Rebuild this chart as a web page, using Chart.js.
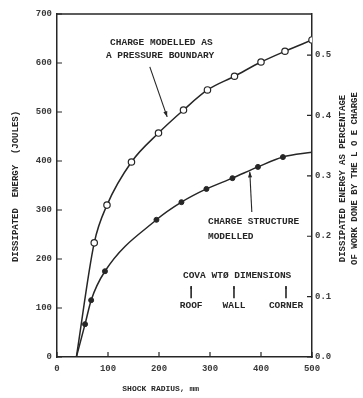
<!DOCTYPE html>
<html>
<head>
<meta charset="utf-8">
<script src="https://cdn.jsdelivr.net/npm/chart.js@4.4.1/dist/chart.umd.min.js"></script>
<style>
  html, body { margin: 0; padding: 0; background: #fff; }
  #wrap { width: 363px; height: 398px; }
</style>
</head>
<body>
<div id="wrap"><canvas id="chart" width="363" height="398"></canvas></div>
<script>
// values
const radiusPressure = [38, 73, 98, 146, 199, 248, 295, 348, 400, 447, 500];
const energyPressure = [0, 233, 310, 398, 457, 504, 545, 573, 602, 624, 647];

const radiusStructure = [38, 55, 67, 94, 195, 244, 293, 344, 394, 443, 500];
const energyStructure = [0, 67, 116, 175, 280, 316, 343, 365, 388, 408, 418];

const radiusTicks = [0, 100, 200, 300, 400, 500];
const energyTicks = [0, 100, 200, 300, 400, 500, 600, 700];
const fractionTicks = [0, 0.1, 0.2, 0.3, 0.4, 0.5];

const INK = '#262626';
const MONO = '"Liberation Mono", "DejaVu Sans Mono", monospace';

function toPoints(xs, ys) {
    return xs.map((x, i) => ({ x: x, y: ys[i] }));
}

// no marker where the curve meets the axis / frame
const pressureRadius = radiusPressure.map((r, i) => i === 0 ? 0 : 3.2);
const structureRadius = radiusStructure.map((r, i) => (i === 0 || i === radiusStructure.length - 1) ? 0 : 2.5);

function arrow(ctx, x1, y1, x2, y2, head) {
    ctx.beginPath();
    ctx.moveTo(x1, y1);
    ctx.lineTo(x2, y2);
    ctx.stroke();
    let a = Math.atan2(y2 - y1, x2 - x1);
    ctx.beginPath();
    ctx.moveTo(x2, y2);
    ctx.lineTo(x2 - head * Math.cos(a - 0.35), y2 - head * Math.sin(a - 0.35));
    ctx.lineTo(x2 - head * Math.cos(a + 0.35), y2 - head * Math.sin(a + 0.35));
    ctx.closePath();
    ctx.fill();
}

const paperText = {
    id: 'paperText',
    afterDraw(chart) {
        const ctx = chart.ctx;
        const area = chart.chartArea;
        const sx = chart.scales.x, sy = chart.scales.y, sy2 = chart.scales.y2;
        const X = v => sx.getPixelForValue(v);
        const Y = v => sy.getPixelForValue(v);

        ctx.save();
        ctx.strokeStyle = INK;
        ctx.fillStyle = INK;

        // top of the frame
        ctx.lineWidth = 1.5;
        ctx.beginPath();
        ctx.moveTo(area.left, area.top);
        ctx.lineTo(area.right, area.top);
        ctx.stroke();

        // inward tick marks
        ctx.lineWidth = 1.2;
        ctx.beginPath();
        sx.ticks.forEach(t => {
            let p = X(t.value);
            ctx.moveTo(p, area.bottom);
            ctx.lineTo(p, area.bottom - 5);
        });
        sy.ticks.forEach(t => {
            let p = Y(t.value);
            ctx.moveTo(area.left, p);
            ctx.lineTo(area.left + 5, p);
        });
        sy2.ticks.forEach(t => {
            let p = sy2.getPixelForValue(t.value);
            ctx.moveTo(area.right, p);
            ctx.lineTo(area.right - 5, p);
        });
        ctx.stroke();

        // axis titles
        ctx.font = 'bold 9px ' + MONO;
        ctx.textBaseline = 'middle';
        ctx.textAlign = 'center';
        ctx.save();
        ctx.translate(16, (area.top + area.bottom) / 2 + 1);
        ctx.rotate(-Math.PI / 2);
        ctx.fillText('DISSIPATED  ENERGY  (JOULES)', 0, 0);
        ctx.restore();

        ctx.save();
        ctx.translate(343, (area.top + area.bottom) / 2 - 7);
        ctx.rotate(-Math.PI / 2);
        ctx.fillText('DISSIPATED ENERGY AS PERCENTAGE', 0, 0);
        ctx.fillText('OF WORK DONE BY THE L O E CHARGE', 0, 12);
        ctx.restore();

        ctx.textAlign = 'left';
        ctx.font = 'bold 8px ' + MONO;
        ctx.fillText('SHOCK RADIUS, mm', X(128), 389);

        // curve labels
        ctx.font = 'bold 9.5px ' + MONO;
        ctx.fillText('CHARGE MODELLED AS', X(104), Y(641));
        ctx.fillText('A PRESSURE BOUNDARY', X(96), Y(616));
        ctx.lineWidth = 1.1;
        arrow(ctx, X(182), Y(592), X(216), Y(490), 6);

        ctx.fillText('CHARGE STRUCTURE', X(296), Y(276));
        ctx.fillText('MODELLED', X(296), Y(245));
        arrow(ctx, X(382), Y(296), X(378), Y(378), 6);

        ctx.fillText('COVA WT\u00d8 DIMENSIONS', X(247), Y(167));
        ctx.textAlign = 'center';
        [[263, 'ROOF'], [347, 'WALL'], [449, 'CORNER']].forEach(d => {
            ctx.lineWidth = 1.6;
            arrow(ctx, X(d[0]), Y(120), X(d[0]), Y(145), 3);
            ctx.fillText(d[1], X(d[0]), Y(104));
        });

        ctx.restore();
    }
};

const tickFont = { family: MONO, size: 9, weight: 'bold' };

new Chart(document.getElementById('chart').getContext('2d'), {
    type: 'line',
    data: {
        datasets: [
            {
                label: 'Charge modelled as a pressure boundary',
                data: toPoints(radiusPressure, energyPressure),
                borderColor: INK,
                borderWidth: 1.5,
                fill: false,
                cubicInterpolationMode: 'monotone',
                pointRadius: pressureRadius,
                pointBackgroundColor: '#fff',
                pointBorderColor: INK,
                pointBorderWidth: 1.2
            },
            {
                label: 'Charge structure modelled',
                data: toPoints(radiusStructure, energyStructure),
                borderColor: INK,
                borderWidth: 1.5,
                fill: false,
                cubicInterpolationMode: 'monotone',
                pointRadius: structureRadius,
                pointBackgroundColor: INK,
                pointBorderColor: INK,
                pointBorderWidth: 1
            }
        ]
    },
    options: {
        responsive: false,
        animation: false,
        devicePixelRatio: 1,
        layout: { padding: { top: 14, left: 0, right: 0, bottom: 0 } },
        plugins: {
            legend: { display: false },
            tooltip: { enabled: false }
        },
        scales: {
            x: {
                type: 'linear',
                min: 0,
                max: 500,
                afterBuildTicks: s => { s.ticks = radiusTicks.map(v => ({ value: v })); },
                afterFit: s => { s.height = 41; },
                grid: { drawOnChartArea: false, drawTicks: false },
                border: { color: INK, width: 1.5 },
                ticks: { padding: 6, color: '#3a3a3a', font: tickFont, maxRotation: 0, autoSkip: false }
            },
            y: {
                type: 'linear',
                position: 'left',
                min: 0,
                max: 700,
                afterBuildTicks: s => { s.ticks = energyTicks.map(v => ({ value: v })); },
                afterFit: s => { s.width = 57; },
                grid: { drawOnChartArea: false, drawTicks: false },
                border: { color: INK, width: 1.5 },
                ticks: { padding: 5, color: '#3a3a3a', font: tickFont }
            },
            y2: {
                type: 'linear',
                position: 'right',
                min: 0,
                max: 0.568,
                afterBuildTicks: s => { s.ticks = fractionTicks.map(v => ({ value: v })); },
                afterFit: s => { s.width = 51; },
                grid: { drawOnChartArea: false, drawTicks: false },
                border: { color: INK, width: 1.5 },
                ticks: { padding: 3, color: '#3a3a3a', font: tickFont, callback: v => v.toFixed(1) }
            }
        }
    },
    plugins: [paperText]
});
</script>
</body>
</html>
